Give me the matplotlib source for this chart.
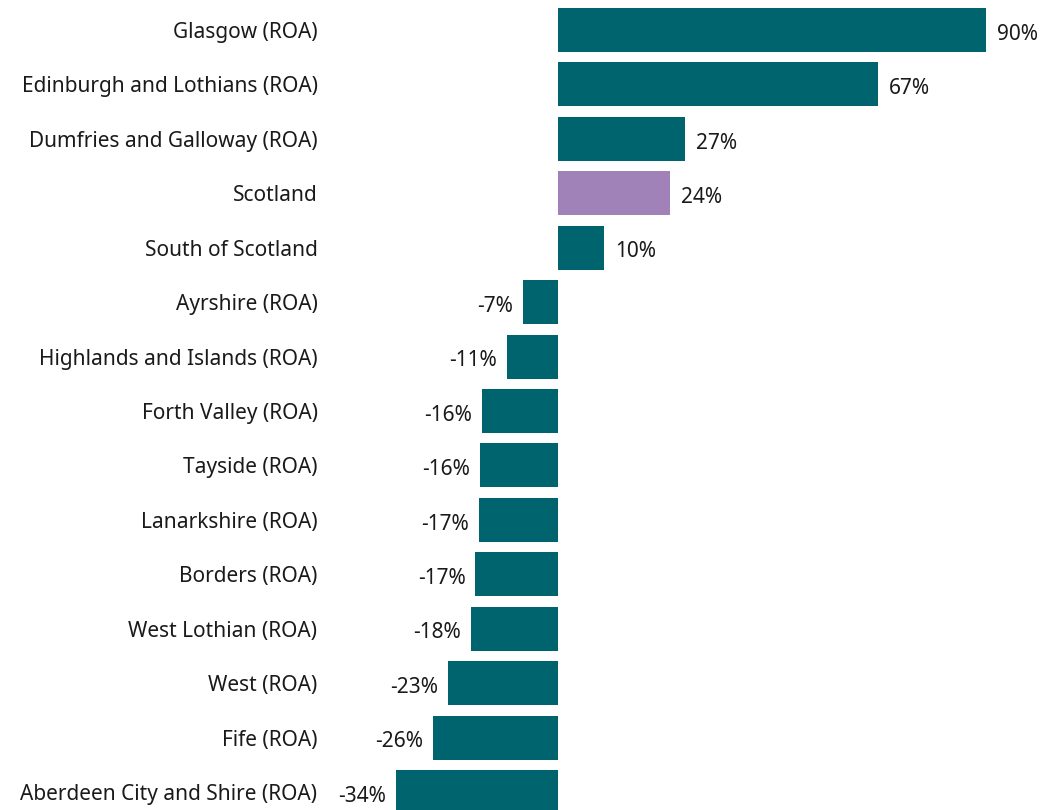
import matplotlib
matplotlib.use("Agg")
import matplotlib.pyplot as plt

# Dados (variação percentual)
regioes = [
    "Glasgow (ROA)",
    "Edinburgh and Lothians (ROA)",
    "Dumfries and Galloway (ROA)",
    "Scotland",
    "South of Scotland",
    "Ayrshire (ROA)",
    "Highlands and Islands (ROA)",
    "Forth Valley (ROA)",
    "Tayside (ROA)",
    "Lanarkshire (ROA)",
    "Borders (ROA)",
    "West Lothian (ROA)",
    "West (ROA)",
    "Fife (ROA)",
    "Aberdeen City and Shire (ROA)",
]
valores = [90.1, 67.4, 26.8, 23.6, 9.7, -7.4, -10.8, -16.0, -16.5, -16.7,
           -17.4, -18.4, -23.2, -26.4, -34.2]

cor_padrao = "#00646F"
cor_destaque = "#A082B9"
cores = [cor_destaque if r == "Scotland" else cor_padrao for r in regioes]

plt.rcParams["font.family"] = ["Noto Sans", "DejaVu Sans"]

fig = plt.figure(figsize=(10.42, 8.10), dpi=100)
ax = fig.add_axes([330 / 1042, 0, 712 / 1042, 1])

y = list(range(len(regioes)))
ax.barh(y, valores, height=0.81, color=cores)

ax.set_xlim(-48.06, 102.0)
ax.set_ylim(14.33, -0.551)

ax.set_yticks(y)
ax.set_yticklabels(regioes, fontsize=15, color="#1a1a1a")
ax.tick_params(axis="y", length=0, pad=9)
ax.set_xticks([])
for s in ax.spines.values():
    s.set_visible(False)

# Rótulos de valor ao lado das barras
for i, v in enumerate(valores):
    txt = f"{v:.0f}%"
    if v >= 0:
        ax.annotate(txt, (v, i), xytext=(8, -3), textcoords="offset points",
                    ha="left", va="center", fontsize=15, color="#1a1a1a")
    else:
        ax.annotate(txt, (v, i), xytext=(-7, -3), textcoords="offset points",
                    ha="right", va="center", fontsize=15, color="#1a1a1a")

fig.savefig("out.png", dpi=100)
